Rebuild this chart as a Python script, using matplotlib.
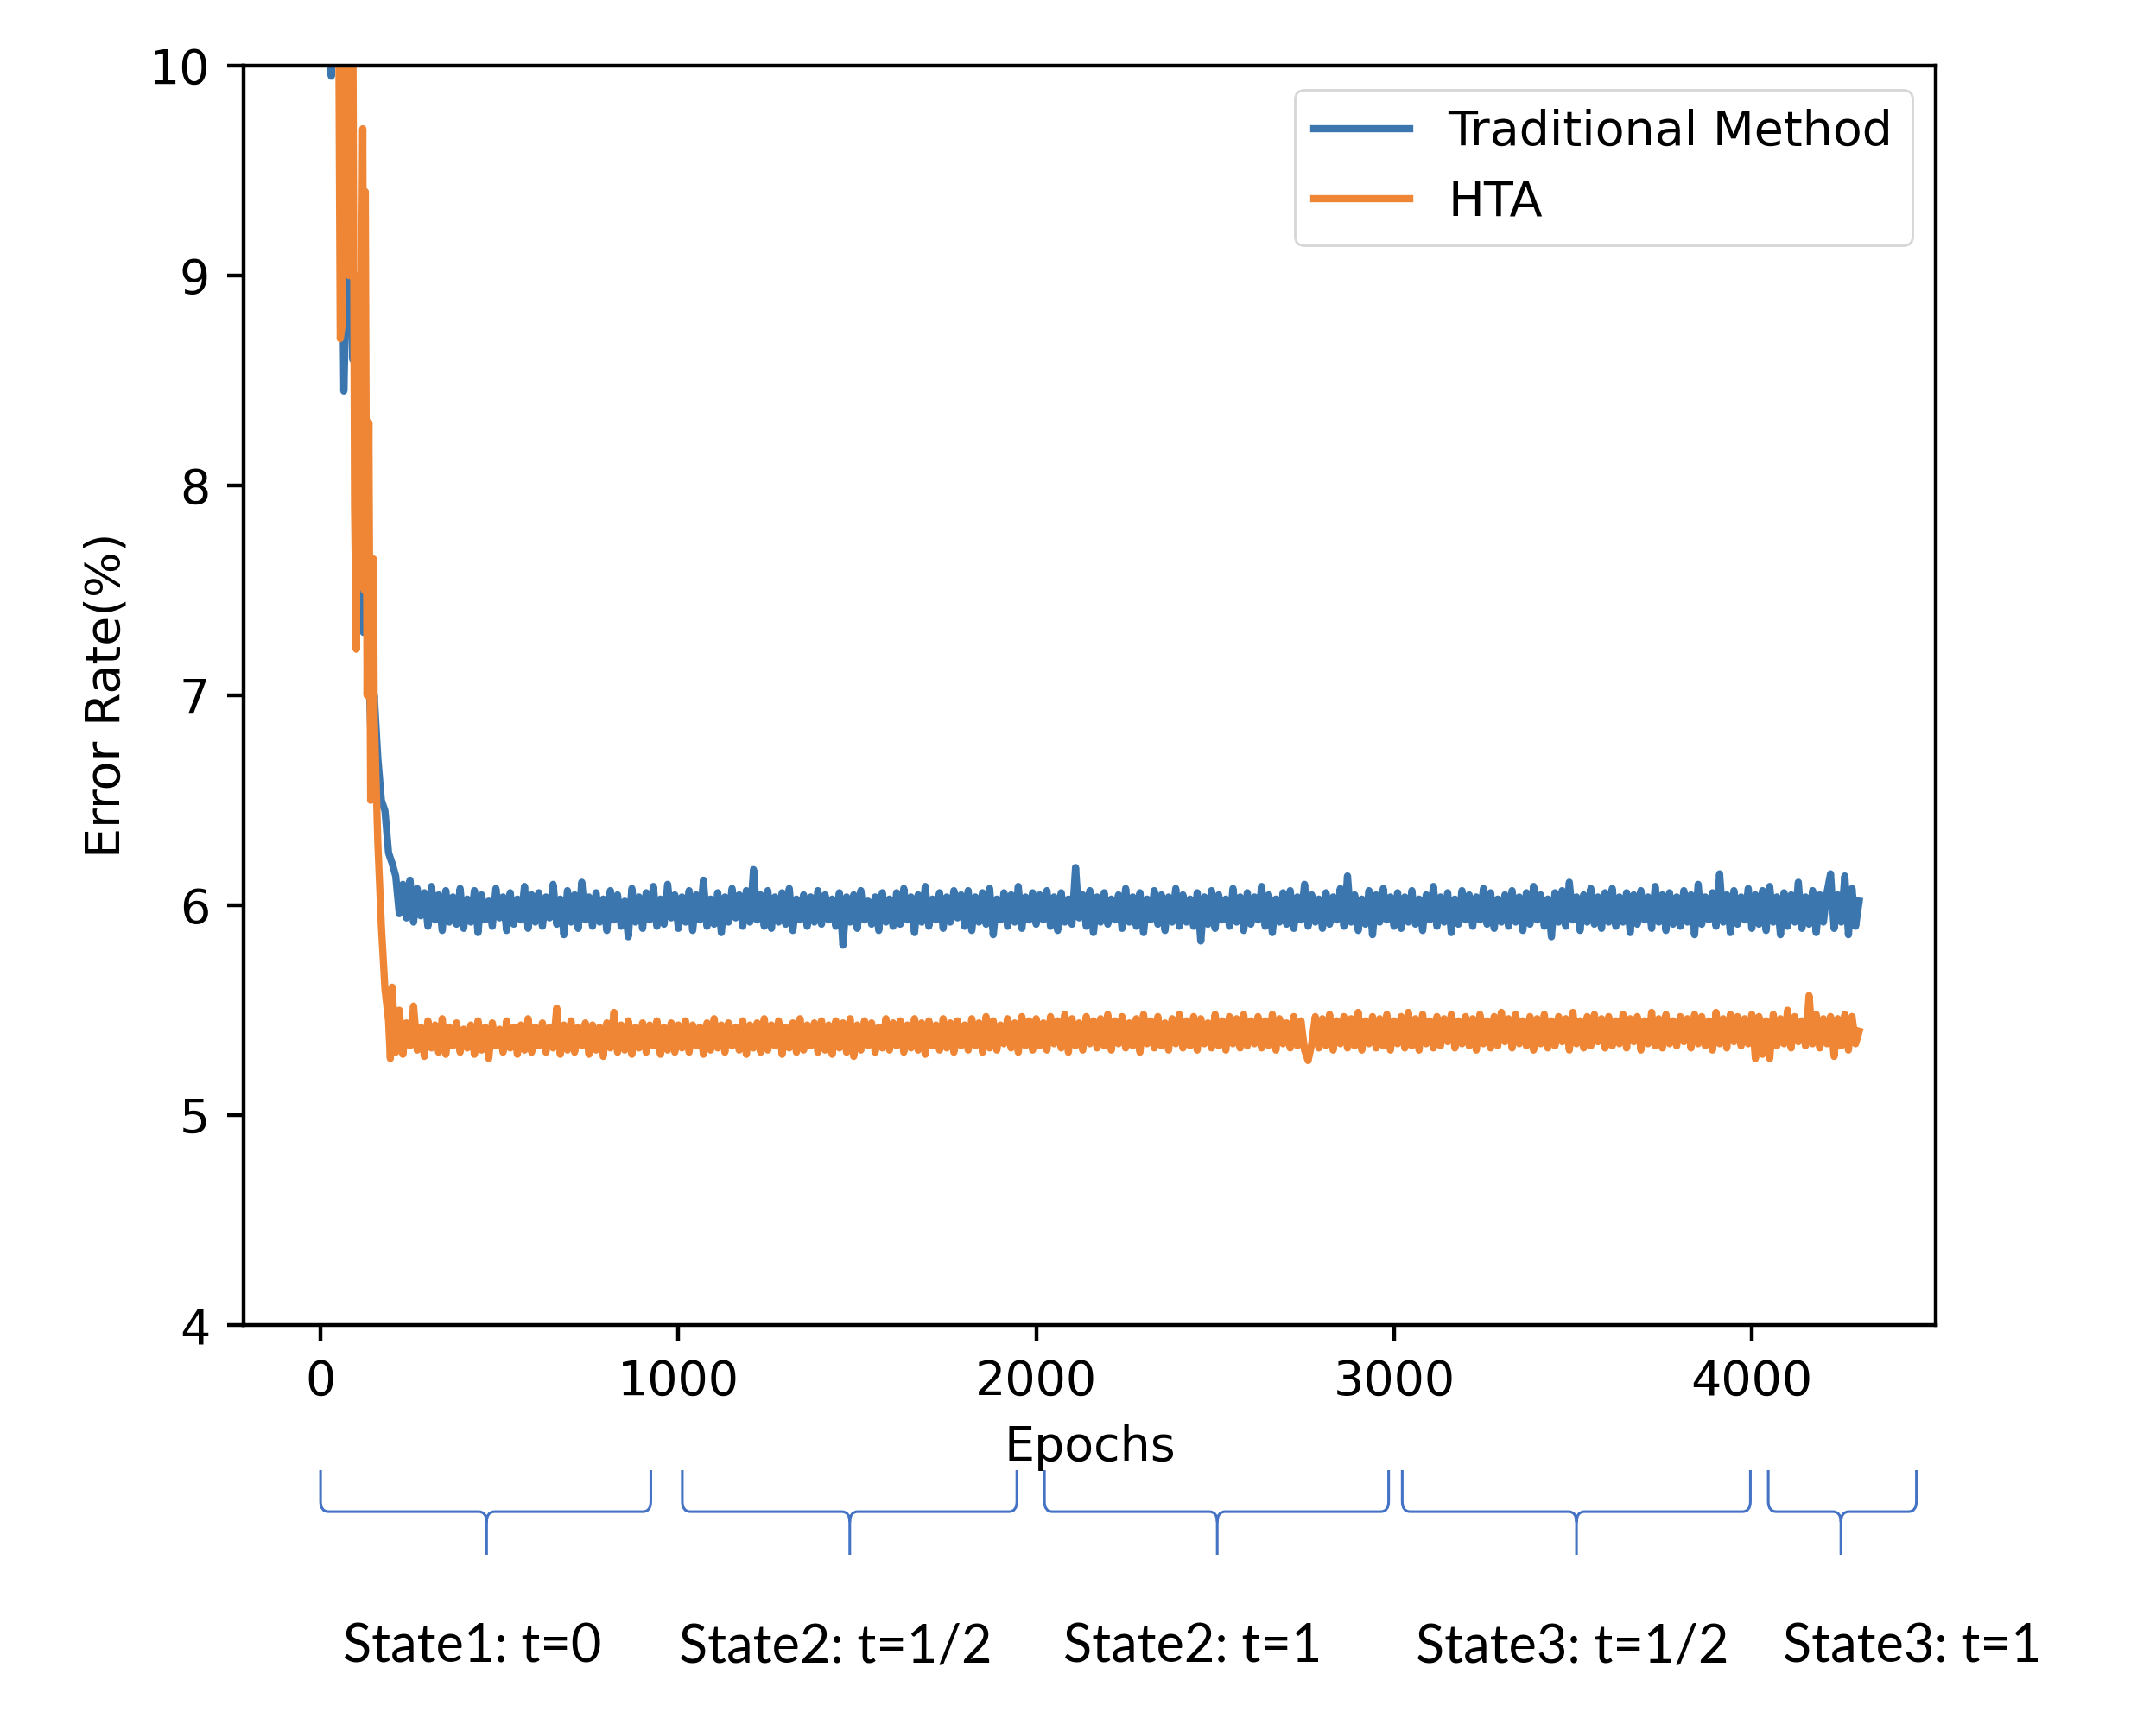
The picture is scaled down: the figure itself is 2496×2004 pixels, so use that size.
import matplotlib
matplotlib.use("Agg")
import matplotlib.pyplot as plt
from matplotlib.path import Path
from matplotlib.patches import PathPatch
from matplotlib import transforms

# early part of training (epoch, error)
early_epochs_trad = [0, 10, 20, 30, 40, 50, 60, 65, 70, 80, 90, 100, 110, 120, 130,
                     140, 150, 160, 170, 180, 190, 200]
early_trad = [13.8, 12.4, 11.0, 9.95, 10.6, 10.9, 9.4, 8.45, 8.8, 9.6, 8.6, 8.9, 7.8,
              7.3, 7.4, 6.85, 7.0, 6.7, 6.5, 6.45, 6.25, 6.2]

early_epochs_hta = [0, 20, 40, 50, 55, 60, 65, 70, 75, 80, 90, 95, 100, 105, 110, 118,
                    122, 125, 130, 135, 140, 148, 150, 155, 160, 170, 180, 190, 195, 200]
early_hta = [16.0, 14.0, 12.0, 10.5, 8.7, 8.76, 10.3, 9.3, 10.5, 9.0, 10.4, 7.9, 7.22,
             9.0, 8.0, 9.7, 7.5, 9.4, 7.0, 8.3, 6.5, 7.65, 6.9, 6.6, 6.3, 5.9, 5.6,
             5.45, 5.27, 5.61]

# plateau, one reading every 10 epochs from 210 to 4290, plus the last epoch
plateau_epochs = list(range(210, 4300, 10)) + [4300]
plateau_trad = [
    6.14, 5.96, 6.10, 5.94, 6.12, 5.92, 6.08, 5.95, 6.06, 5.90, 6.09, 5.93, 6.05, 5.88, 6.07, 5.92, 6.04, 5.91, 6.08, 5.89,
    6.03, 5.92, 6.07, 5.87, 6.05, 5.93, 6.02, 5.90, 6.08, 5.94, 6.04, 5.88, 6.06, 5.91, 6.03, 5.93, 6.09, 5.89, 6.05, 5.92,
    6.06, 5.90, 6.04, 5.94, 6.10, 5.91, 6.03, 5.86, 6.07, 5.92, 6.05, 5.89, 6.11, 5.93, 6.04, 5.90, 6.06, 5.92, 6.03, 5.88,
    6.07, 5.93, 6.05, 5.90, 6.02, 5.85, 6.08, 5.92, 6.04, 5.89, 6.06, 5.93, 6.09, 5.90, 6.03, 5.91, 6.10, 5.94, 6.05, 5.89,
    6.04, 5.92, 6.07, 5.88, 6.05, 5.93, 6.12, 5.90, 6.03, 5.91, 6.06, 5.87, 6.04, 5.92, 6.08, 5.94, 6.05, 5.90, 6.07, 5.92,
    6.17, 5.93, 6.05, 5.90, 6.07, 5.89, 6.04, 5.92, 6.06, 5.91, 6.08, 5.88, 6.03, 5.93, 6.05, 5.90, 6.04, 5.92, 6.07, 5.91,
    6.05, 5.93, 6.03, 5.90, 6.06, 5.81, 6.04, 5.92, 6.05, 5.89, 6.07, 5.93, 6.02, 5.91, 6.04, 5.88, 6.06, 5.92, 6.03, 5.90,
    6.06, 5.91, 6.08, 5.93, 6.04, 5.87, 6.05, 5.92, 6.09, 5.90, 6.03, 5.93, 6.06, 5.89, 6.04, 5.92, 6.07, 5.94, 6.05, 5.90,
    6.07, 5.88, 6.04, 5.92, 6.06, 5.91, 6.08, 5.86, 6.03, 5.93, 6.06, 5.90, 6.05, 5.92, 6.09, 5.89, 6.04, 5.93, 6.06, 5.91,
    6.05, 5.93, 6.07, 5.90, 6.04, 5.88, 6.06, 5.92, 6.03, 5.91, 6.18, 5.94, 6.05, 5.90, 6.07, 5.87, 6.04, 5.92, 6.06, 5.91,
    6.03, 5.93, 6.05, 5.89, 6.08, 5.92, 6.04, 5.90, 6.06, 5.87, 6.03, 5.93, 6.07, 5.91, 6.05, 5.88, 6.04, 5.92, 6.08, 5.90,
    6.05, 5.92, 6.03, 5.90, 6.06, 5.83, 6.04, 5.91, 6.07, 5.89, 6.05, 5.93, 6.03, 5.90, 6.08, 5.92, 6.04, 5.88, 6.06, 5.91,
    6.04, 5.93, 6.09, 5.90, 6.05, 5.87, 6.03, 5.92, 6.06, 5.91, 6.07, 5.89, 6.04, 5.93, 6.10, 5.90, 6.05, 5.92, 6.03, 5.89,
    6.06, 5.91, 6.04, 5.93, 6.08, 5.90, 6.14, 5.92, 6.05, 5.88, 6.03, 5.91, 6.07, 5.86, 6.05, 5.92, 6.08, 5.93, 6.04, 5.90,
    6.06, 5.89, 6.04, 5.92, 6.07, 5.91, 6.03, 5.88, 6.05, 5.93, 6.09, 5.90, 6.04, 5.92, 6.06, 5.87, 6.03, 5.91, 6.07, 5.93,
    6.05, 5.90, 6.04, 5.93, 6.08, 5.91, 6.06, 5.89, 6.03, 5.92, 6.05, 5.90, 6.07, 5.92, 6.04, 5.88, 6.06, 5.91, 6.09, 5.93,
    6.05, 5.90, 6.03, 5.85, 6.06, 5.92, 6.07, 5.90, 6.11, 5.93, 6.04, 5.88, 6.05, 5.92, 6.08, 5.91, 6.04, 5.89, 6.06, 5.92,
    6.08, 5.90, 6.04, 5.92, 6.06, 5.87, 6.05, 5.91, 6.07, 5.93, 6.04, 5.89, 6.09, 5.92, 6.05, 5.88, 6.06, 5.91, 6.04, 5.90,
    6.07, 5.92, 6.05, 5.86, 6.10, 5.91, 6.04, 5.93, 6.06, 5.90, 6.15, 5.92, 6.05, 5.87, 6.07, 5.91, 6.04, 5.93, 6.08, 5.89,
    6.05, 5.91, 6.07, 5.88, 6.09, 5.92, 6.04, 5.86, 6.06, 5.90, 6.05, 5.92, 6.11, 5.89, 6.04, 5.91, 6.07, 5.87, 6.05, 5.92,
    6.06, 6.15, 5.89, 6.05, 5.92, 6.14, 5.86, 6.08, 5.90,
    6.02]
plateau_hta = [
    5.30, 5.50, 5.29, 5.44, 5.33, 5.52, 5.31, 5.42, 5.28, 5.45, 5.32, 5.43, 5.30, 5.46, 5.29, 5.42, 5.33, 5.44, 5.30, 5.41,
    5.32, 5.43, 5.29, 5.45, 5.31, 5.42, 5.27, 5.44, 5.33, 5.41, 5.30, 5.45, 5.32, 5.42, 5.29, 5.43, 5.31, 5.46, 5.30, 5.42,
    5.33, 5.44, 5.30, 5.42, 5.32, 5.51, 5.29, 5.43, 5.31, 5.45, 5.30, 5.42, 5.33, 5.44, 5.29, 5.43, 5.31, 5.42, 5.28, 5.44,
    5.32, 5.49, 5.30, 5.43, 5.31, 5.45, 5.29, 5.42, 5.32, 5.44, 5.30, 5.43, 5.33, 5.45, 5.29, 5.42, 5.31, 5.44, 5.30, 5.43,
    5.32, 5.45, 5.30, 5.43, 5.33, 5.42, 5.29, 5.44, 5.31, 5.46, 5.32, 5.43, 5.30, 5.44, 5.33, 5.42, 5.31, 5.45, 5.29, 5.43,
    5.32, 5.44, 5.30, 5.46, 5.31, 5.43, 5.33, 5.45, 5.29, 5.42, 5.32, 5.44, 5.30, 5.46, 5.31, 5.43, 5.33, 5.44, 5.30, 5.45,
    5.31, 5.43, 5.29, 5.45, 5.32, 5.44, 5.30, 5.46, 5.28, 5.43, 5.31, 5.45, 5.33, 5.44, 5.30, 5.42, 5.32, 5.46, 5.31, 5.44,
    5.33, 5.45, 5.30, 5.43, 5.32, 5.46, 5.31, 5.44, 5.29, 5.45, 5.33, 5.43, 5.31, 5.46, 5.32, 5.44, 5.30, 5.45, 5.33, 5.43,
    5.31, 5.46, 5.33, 5.44, 5.30, 5.47, 5.32, 5.45, 5.31, 5.43, 5.34, 5.46, 5.32, 5.44, 5.30, 5.47, 5.33, 5.45, 5.31, 5.46,
    5.33, 5.44, 5.31, 5.47, 5.34, 5.45, 5.32, 5.48, 5.30, 5.46, 5.33, 5.44, 5.31, 5.47, 5.34, 5.45, 5.32, 5.46, 5.33, 5.48,
    5.31, 5.45, 5.34, 5.47, 5.32, 5.44, 5.33, 5.46, 5.30, 5.48, 5.34, 5.45, 5.32, 5.47, 5.33, 5.44, 5.31, 5.46, 5.34, 5.48,
    5.32, 5.45, 5.33, 5.47, 5.31, 5.46, 5.34, 5.44, 5.32, 5.48, 5.33, 5.45, 5.31, 5.47, 5.34, 5.46, 5.32, 5.48, 5.33, 5.45,
    5.34, 5.47, 5.32, 5.45, 5.33, 5.48, 5.31, 5.46, 5.34, 5.44, 5.32, 5.47, 5.33, 5.45, 5.31, 5.26, 5.34, 5.47, 5.32, 5.46,
    5.33, 5.48, 5.31, 5.45, 5.34, 5.47, 5.32, 5.46, 5.33, 5.49, 5.31, 5.45, 5.34, 5.47, 5.32, 5.46, 5.33, 5.48, 5.31, 5.45,
    5.34, 5.47, 5.32, 5.49, 5.33, 5.46, 5.31, 5.48, 5.34, 5.45, 5.32, 5.47, 5.33, 5.46, 5.35, 5.48, 5.32, 5.45, 5.34, 5.47,
    5.33, 5.46, 5.31, 5.48, 5.34, 5.45, 5.32, 5.47, 5.33, 5.49, 5.35, 5.46, 5.32, 5.48, 5.34, 5.45, 5.33, 5.47, 5.31, 5.46,
    5.34, 5.48, 5.32, 5.45, 5.33, 5.47, 5.35, 5.46, 5.31, 5.49, 5.34, 5.45, 5.32, 5.47, 5.33, 5.48, 5.35, 5.46, 5.32, 5.47,
    5.33, 5.45, 5.34, 5.48, 5.32, 5.46, 5.35, 5.47, 5.31, 5.45, 5.34, 5.49, 5.33, 5.46, 5.32, 5.48, 5.34, 5.45, 5.33, 5.47,
    5.35, 5.46, 5.32, 5.48, 5.34, 5.47, 5.33, 5.45, 5.31, 5.49, 5.34, 5.46, 5.32, 5.48, 5.35, 5.47, 5.33, 5.46, 5.34, 5.48,
    5.27, 5.47, 5.29, 5.45, 5.27, 5.48, 5.33, 5.46, 5.34, 5.50, 5.32, 5.47, 5.35, 5.45, 5.33, 5.57, 5.34, 5.48, 5.32, 5.46,
    5.34, 5.47, 5.28, 5.46, 5.33, 5.48, 5.31, 5.47, 5.34,
    5.40]

# training stages shown under the axis: (start, end, brace tip) in epochs
stage_spans = [(0, 923, 464), (1011, 1946, 1479), (2023, 2985, 2506),
               (3023, 3996, 3510), (4046, 4460, 4249)]
stage_labels = ["State1: t=0", "State2: t=1/2", "State2: t=1",
                "State3: t=1/2", "State3: t=1"]
stage_label_x = [423, 1440, 2437, 3498, 4448]

plt.rcParams.update({
    "font.size": 20,
    "axes.linewidth": 1.6,
    "xtick.major.size": 7, "ytick.major.size": 7,
    "xtick.major.width": 1.6, "ytick.major.width": 1.6,
    "xtick.major.pad": 7, "ytick.major.pad": 7,
})

fig = plt.figure(figsize=(12.48, 10.02), dpi=200)
ax = fig.add_axes([0.113, 0.2345, 0.785, 0.7275])

ax.plot(early_epochs_trad + plateau_epochs, early_trad + plateau_trad,
        color="#3b76af", lw=3, label="Traditional Method")
ax.plot(early_epochs_hta + plateau_epochs, early_hta + plateau_hta,
        color="#ef8636", lw=3, label="HTA")

ax.set_xlim(-215, 4515)
ax.set_ylim(4, 10)
ax.set_xticks([0, 1000, 2000, 3000, 4000])
ax.set_xlabel("Epochs", labelpad=8)
ax.set_ylabel("Error Rate(%)", labelpad=8)
ax.legend(loc="upper right")

# braces and stage names below the x axis
trans = transforms.blended_transform_factory(ax.transData, fig.transFigure)
y_top, y_mid, y_tip = 0.1507, 0.1267, 0.1018
rx, ry = 22, 0.006
for (x0, x1, xm) in stage_spans:
    verts = [(x0, y_top), (x0, y_mid + ry), (x0, y_mid), (x0 + rx, y_mid),
             (xm - rx, y_mid), (xm, y_mid), (xm, y_mid - ry), (xm, y_tip),
             (xm, y_mid - ry), (xm, y_mid), (xm + rx, y_mid),
             (x1 - rx, y_mid), (x1, y_mid), (x1, y_mid + ry), (x1, y_top)]
    codes = [Path.MOVETO, Path.LINETO, Path.CURVE3, Path.CURVE3,
             Path.LINETO, Path.CURVE3, Path.CURVE3, Path.LINETO,
             Path.MOVETO, Path.CURVE3, Path.CURVE3,
             Path.LINETO, Path.CURVE3, Path.CURVE3, Path.LINETO]
    fig.add_artist(PathPatch(Path(verts, codes), transform=trans, fill=False,
                             edgecolor="#4472c4", lw=1.1))

for label, xc in zip(stage_labels, stage_label_x):
    fig.text(xc, 0.0484, label, transform=trans, ha="center", va="center",
             fontsize=22, family=["Lato", "DejaVu Sans"])

fig.savefig("out.png", dpi=200)
